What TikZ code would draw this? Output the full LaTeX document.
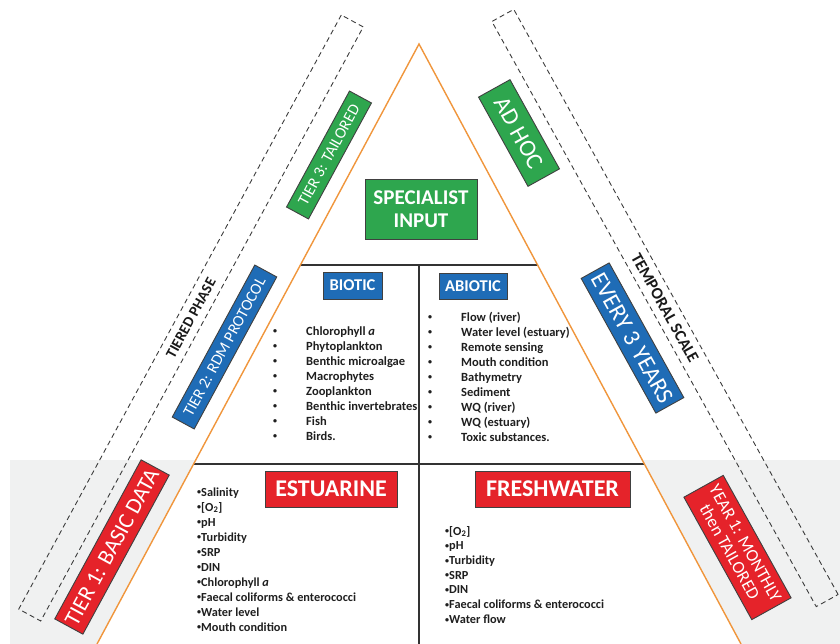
\documentclass[tikz,border=0pt]{standalone}
\usepackage{fontspec}
\setmainfont{Carlito}
\definecolor{tiergreen}{RGB}{46,166,78}
\definecolor{tierblue}{RGB}{31,108,182}
\definecolor{tierred}{RGB}{229,35,42}
\definecolor{bandgray}{RGB}{240,241,241}
\definecolor{edgeorange}{RGB}{240,150,60}
\definecolor{framegray}{RGB}{60,60,60}
\newcommand{\dotmark}{\raisebox{1.2pt}{\fontsize{8}{8}\selectfont •}}
\tikzset{
  tagbox/.style={draw=black!75, line width=0.9pt, text=white, inner sep=0pt, align=center},
  greenbox/.style={tagbox, fill=tiergreen},
  bluebox/.style={tagbox, fill=tierblue},
  redbox/.style={tagbox, fill=tierred},
  dashbox/.style={draw=framegray, dashed, dash pattern=on 5pt off 3.5pt, line width=0.9pt,
    inner sep=0pt, text=black!90},
  cellline/.style={draw=black!80, line width=1.1pt},
  edgeline/.style={draw=edgeorange, line width=1.4pt},
  listitem/.style={anchor=base west, inner sep=0pt, text=black!88,
    font=\bfseries\fontsize{12.5}{14}\selectfont},
  smallitem/.style={anchor=base west, inner sep=0pt, text=black!88,
    font=\bfseries\fontsize{12.3}{14}\selectfont},
}
\begin{document}
\begin{tikzpicture}[x=1pt,y=-1pt]
\useasboundingbox (0,0) rectangle (840,644);

% grey band behind the lowest tier
\fill[bandgray] (10,460) rectangle (840,644);

% the pyramid
\coordinate (apex) at (419,44);
\coordinate (baseL) at (97,644);
\coordinate (baseR) at (741,644);
\fill[white] (apex) -- (baseL) -- (baseR) -- cycle;

% cell dividers
\coordinate (midL) at (300.4,265);
\coordinate (midR) at (537.6,265);
\coordinate (lowL) at (193.6,464);
\coordinate (lowR) at (644.4,464);
\coordinate (axisTop) at (419,265);
\coordinate (axisBot) at (419,644);
\draw[cellline] (midL) -- (midR);
\draw[cellline] (lowL) -- (lowR);
\draw[cellline] (axisTop) -- (axisBot);
\draw[edgeline] (baseL) -- (apex) -- (baseR);

% dashed side frames
\node[dashbox, minimum width=676pt, minimum height=25pt, rotate=61.5,
  font=\bfseries\fontsize{15}{16}\selectfont] (phase) at (191,318) {TIERED PHASE};
\node[dashbox, minimum width=669pt, minimum height=25pt, rotate=-61,
  font=\bfseries\fontsize{16.5}{18}\selectfont] (scale) at (665,308) {TEMPORAL SCALE};

% tier labels, left side
\node[greenbox, minimum width=132pt, minimum height=25pt, rotate=61.5,
  font=\fontsize{16}{17}\selectfont] (tier3) at (329,155) {TIER 3: TAILORED};
\node[bluebox, minimum width=173pt, minimum height=25pt, rotate=61.5,
  font=\fontsize{16}{17}\selectfont] (tier2) at (224.5,347) {TIER 2: RDM PROTOCOL};
\node[redbox, minimum width=181pt, minimum height=32pt, rotate=61.5,
  font=\fontsize{22.5}{24}\selectfont] (tier1) at (112,547) {TIER 1: BASIC DATA};

% frequency labels, right side
\node[greenbox, minimum width=102pt, minimum height=36pt, rotate=-61,
  font=\fontsize{24}{26}\selectfont] (adhoc) at (519,133) {AD HOC};
\node[bluebox, minimum width=154pt, minimum height=32pt, rotate=-61,
  font=\fontsize{24}{26}\selectfont] (every3) at (632.5,338) {EVERY 3 YEARS};
\node[redbox, minimum width=140pt, minimum height=45pt, rotate=-61,
  font=\fontsize{17.5}{18}\selectfont] (year1) at (737.5,547.5) {YEAR 1: MONTHLY\\then TAILORED};

% headings inside the pyramid
\node[greenbox, minimum width=112pt, minimum height=60pt,
  font=\bfseries\fontsize{21}{23}\selectfont] (specialist) at (421,209) {SPECIALIST\\INPUT};
\node[bluebox, minimum width=59pt, minimum height=27pt,
  font=\bfseries\fontsize{16.5}{18}\selectfont] (biotic) at (352.5,285.5) {BIOTIC};
\node[bluebox, minimum width=68pt, minimum height=26pt,
  font=\bfseries\fontsize{16.5}{18}\selectfont] (abiotic) at (473,286) {ABIOTIC};
\node[redbox, minimum width=132pt, minimum height=36pt,
  font=\bfseries\fontsize{24}{26}\selectfont] (estuarine) at (331,489) {ESTUARINE};
\node[redbox, minimum width=155pt, minimum height=36pt,
  font=\bfseries\fontsize{24}{26}\selectfont] (freshwater) at (552.5,489) {FRESHWATER};

% biotic indicators
\foreach \t [count=\i] in {Chlorophyll \textit{a}, Phytoplankton, Benthic microalgae,
    Macrophytes, Zooplankton, Benthic invertebrates, Fish, Birds.} {
  \node[listitem] (bdot\i) at (273,{335+15*(\i-1)}) {\dotmark};
  \node[listitem] (bio\i) at (306,{335+15*(\i-1)}) {\t};
}

% abiotic indicators
\foreach \t [count=\i] in {Flow (river), Water level (estuary), Remote sensing,
    Mouth condition, Bathymetry, Sediment, WQ (river), WQ (estuary), Toxic substances.} {
  \node[listitem] (adot\i) at (428,{321+15*(\i-1)}) {\dotmark};
  \node[listitem] (abio\i) at (461,{321+15*(\i-1)}) {\t};
}

% estuarine basic data
\foreach \t [count=\i] in {Salinity, [O\textsubscript{2}], pH, Turbidity, SRP, DIN,
    Chlorophyll \textit{a}, Faecal coliforms \& enterococci, Water level, Mouth condition} {
  \node[smallitem] (est\i) at (197,{496+15*(\i-1)}) {\dotmark\t};
}

% freshwater basic data
\foreach \t [count=\i] in {[O\textsubscript{2}], pH, Turbidity, SRP, DIN,
    Faecal coliforms \& enterococci, Water flow} {
  \node[smallitem] (fw\i) at (445,{535+14.7*(\i-1)}) {\dotmark\t};
}
\end{tikzpicture}
\end{document}
